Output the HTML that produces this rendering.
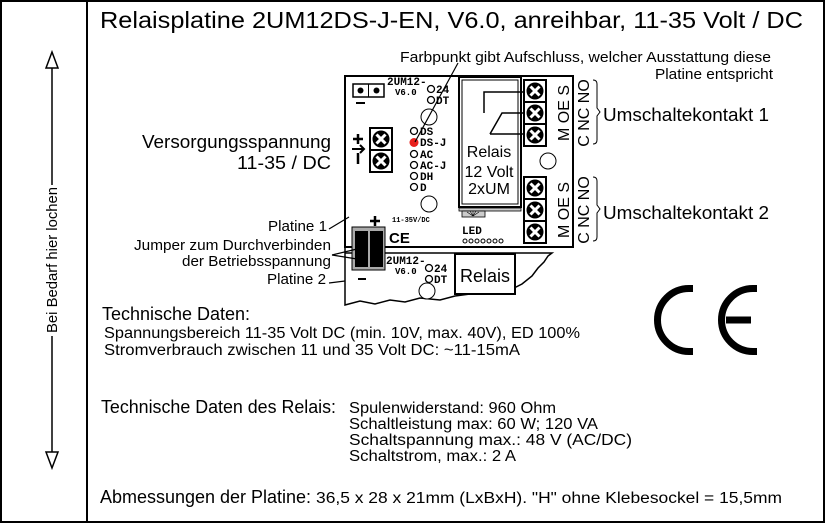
<!DOCTYPE html>
<html><head><meta charset="utf-8"><style>
html,body{margin:0;padding:0;background:#fff}
svg{display:block}
text{font-family:"Liberation Sans",sans-serif;fill:#000}
.m{font-family:"Liberation Mono",monospace;font-weight:bold}
</style></head><body>
<svg width="826" height="524" viewBox="0 0 826 524" xmlns="http://www.w3.org/2000/svg">
<defs>
<g id="scr">
<rect x="0" y="0" width="22" height="22" fill="#fff" stroke="#000" stroke-width="2"/>
<circle cx="11" cy="11" r="8.5" fill="#000"/>
<path d="M6.5 6.5L15.5 15.5M15.5 6.5L6.5 15.5" stroke="#fff" stroke-width="3"/>
</g>
</defs>
<rect x="1" y="1" width="823" height="521" fill="none" stroke="#000" stroke-width="2"/>
<line x1="87" y1="1" x2="87" y2="523" stroke="#000" stroke-width="2"/>

<!-- left arrow -->
<line x1="52" y1="66" x2="52" y2="185" stroke="#000" stroke-width="1.5"/>
<line x1="52" y1="336" x2="52" y2="454" stroke="#000" stroke-width="1.5"/>
<path d="M46 68L52 52L58 68Z" fill="#fff" stroke="#000" stroke-width="1.5"/>
<path d="M46 452L52 468L58 452Z" fill="#fff" stroke="#000" stroke-width="1.5"/>
<text transform="translate(57,260) rotate(-90)" font-size="15" text-anchor="middle" textLength="146" lengthAdjust="spacingAndGlyphs">Bei Bedarf hier lochen</text>

<!-- title -->
<text x="100" y="28" font-size="23" textLength="703" lengthAdjust="spacingAndGlyphs">Relaisplatine 2UM12DS-J-EN, V6.0, anreihbar, 11-35 Volt / DC</text>
<text x="400" y="62" font-size="15" textLength="371" lengthAdjust="spacingAndGlyphs">Farbpunkt gibt Aufschluss, welcher Ausstattung diese</text>
<text x="655" y="79" font-size="15" textLength="118" lengthAdjust="spacingAndGlyphs">Platine entspricht</text>

<text x="142" y="148" font-size="18" textLength="189" lengthAdjust="spacingAndGlyphs">Versorgungsspannung</text>
<text x="237" y="169" font-size="18" textLength="94" lengthAdjust="spacingAndGlyphs">11-35 / DC</text>
<text x="268" y="231" font-size="15" textLength="59" lengthAdjust="spacingAndGlyphs">Platine 1</text>
<text x="134" y="250" font-size="15" textLength="197" lengthAdjust="spacingAndGlyphs">Jumper zum Durchverbinden</text>
<text x="182" y="266" font-size="15" textLength="149" lengthAdjust="spacingAndGlyphs">der Betriebsspannung</text>
<text x="267" y="284" font-size="15" textLength="59" lengthAdjust="spacingAndGlyphs">Platine 2</text>

<!-- board 2 -->
<path d="M345 247 L345 305 L360 301 L375 304 L390 300 L405 302 L420 298 L440 300 L455 296 L470 294 L490 292 L510 290 L522 284 L532 276 L538 268 L544 262 L548 256 L552 253 L548 253 L345 253" fill="#fff" stroke="#000" stroke-width="1.5"/>
<rect x="455" y="254" width="60" height="40" fill="#fff" stroke="#000" stroke-width="2"/>
<text x="485" y="282" font-size="18" text-anchor="middle">Relais</text>
<circle cx="427" cy="291" r="8" fill="#fff" stroke="#000" stroke-width="1"/>
<text class="m" x="386" y="264" font-size="11">2UM12-</text>
<text class="m" x="395" y="274" font-size="9">V6.0</text>
<g fill="#fff" stroke="#000" stroke-width="1.3"><circle cx="429" cy="268" r="3.5"/><circle cx="429" cy="279" r="3.5"/></g>
<text class="m" x="434" y="272" font-size="11">24</text>
<text class="m" x="434" y="283" font-size="11">DT</text>

<!-- board 1 -->
<rect x="345" y="76" width="228" height="171" fill="#fff" stroke="#000" stroke-width="2"/>
<rect x="353" y="84" width="31" height="13" fill="#fff" stroke="#000" stroke-width="1.5"/>
<line x1="368.5" y1="84" x2="368.5" y2="97" stroke="#000"/>
<circle cx="360.5" cy="90.5" r="3" fill="#000"/><circle cx="376.5" cy="90.5" r="3" fill="#000"/>
<line x1="356" y1="103" x2="365" y2="103" stroke="#000" stroke-width="2"/>
<text class="m" x="387" y="85" font-size="11">2UM12-</text>
<text class="m" x="395" y="95" font-size="9">V6.0</text>
<g fill="#fff" stroke="#000" stroke-width="1.3"><circle cx="431" cy="89" r="3.5"/><circle cx="431" cy="100" r="3.5"/></g>
<text class="m" x="436" y="93" font-size="11">24</text>
<text class="m" x="436" y="104" font-size="11">DT</text>
<circle cx="429" cy="117" r="8" fill="#fff" stroke="#000" stroke-width="1"/>
<circle cx="429" cy="204" r="8" fill="#fff" stroke="#000" stroke-width="1"/>
<circle cx="548" cy="161" r="8" fill="#fff" stroke="#000" stroke-width="1"/>
<g fill="#fff" stroke="#000" stroke-width="1.3">
<circle cx="414" cy="131" r="3.5"/><circle cx="414" cy="154" r="3.5"/><circle cx="414" cy="165" r="3.5"/><circle cx="414" cy="176" r="3.5"/><circle cx="414" cy="187" r="3.5"/>
</g>
<circle cx="414" cy="142.5" r="4.5" fill="#e8201c"/>
<text class="m" x="420" y="135" font-size="11">DS</text>
<text class="m" x="420" y="146" font-size="11">DS-J</text>
<text class="m" x="420" y="158" font-size="11">AC</text>
<text class="m" x="420" y="169" font-size="11">AC-J</text>
<text class="m" x="420" y="180" font-size="11">DH</text>
<text class="m" x="420" y="191" font-size="11">D</text>
<!-- power block -->
<use href="#scr" x="370" y="128"/>
<use href="#scr" x="370" y="150"/>
<path d="M353 139h10M358 134v10" stroke="#000" stroke-width="2.5"/>
<path d="M352 149h12M360 145l4 4l-4 4" stroke="#000" stroke-width="2" fill="none"/>
<line x1="358" y1="153" x2="358" y2="164" stroke="#000" stroke-width="2.5"/>
<!-- plus / CE small -->
<path d="M370 221h10M375 216v10" stroke="#000" stroke-width="2.5"/>
<text class="m" x="392" y="222" font-size="7">11-35V/DC</text>
<text x="389" y="243" font-size="15" font-weight="bold">CE</text>
<!-- jumper -->
<rect x="352" y="227" width="33" height="43" fill="#aaa" stroke="#000"/>
<rect x="355" y="231" width="13" height="36" fill="#000"/>
<rect x="370" y="231" width="13" height="36" fill="#000"/>
<line x1="358" y1="279" x2="366" y2="279" stroke="#000" stroke-width="2"/>
<!-- relay -->
<rect x="459" y="77" width="62" height="130" fill="#fff" stroke="#000" stroke-width="2"/>
<rect x="462" y="80" width="56" height="124" fill="none" stroke="#000" stroke-width="1"/>
<path d="M484 113V92H525M490 134L502 113H525M490 134H525" stroke="#000" stroke-width="1.5" fill="none"/>
<text x="489" y="157" font-size="16" text-anchor="middle">Relais</text>
<text x="489" y="177" font-size="16" text-anchor="middle">12 Volt</text>
<text x="489" y="194" font-size="16" text-anchor="middle">2xUM</text>
<rect x="459" y="208" width="62" height="3" fill="#ccc" stroke="#000" stroke-width="0.8"/>
<rect x="462" y="211" width="23" height="6" fill="#ccc" stroke="#000" stroke-width="0.8"/>
<path d="M473 216l-6 -4M473 216l-3 -5M473 216l0 -5M473 216l3 -5M473 216l6 -4" stroke="#000" stroke-width="0.6"/>
<text class="m" x="462" y="234" font-size="11">LED</text>
<g fill="#fff" stroke="#000" stroke-width="1">
<circle cx="465" cy="241" r="2"/><circle cx="471" cy="241" r="2"/><circle cx="477" cy="241" r="2"/><circle cx="483" cy="241" r="2"/><circle cx="489" cy="241" r="2"/><circle cx="495" cy="241" r="2"/><circle cx="501" cy="241" r="2"/>
</g>
<!-- terminal blocks -->
<use href="#scr" x="524" y="80"/><use href="#scr" x="524" y="102"/><use href="#scr" x="524" y="124"/>
<use href="#scr" x="524" y="177"/><use href="#scr" x="524" y="199"/><use href="#scr" x="524" y="221"/>
<text transform="translate(569,113) rotate(-90)" font-size="16" text-anchor="middle">M OE S</text>
<text transform="translate(589,113) rotate(-90)" font-size="16" text-anchor="middle">C NC NO</text>
<text transform="translate(569,210) rotate(-90)" font-size="16" text-anchor="middle">M OE S</text>
<text transform="translate(589,210) rotate(-90)" font-size="16" text-anchor="middle">C NC NO</text>
<path d="M593 80q4 0 4 4v24l3 4l-3 4v24q0 4 -4 4" fill="none" stroke="#000" stroke-width="1"/>
<path d="M593 177q4 0 4 4v24l3 4l-3 4v24q0 4 -4 4" fill="none" stroke="#000" stroke-width="1"/>
<text x="603" y="121" font-size="18" textLength="166" lengthAdjust="spacingAndGlyphs">Umschaltekontakt 1</text>
<text x="603" y="219" font-size="18" textLength="166" lengthAdjust="spacingAndGlyphs">Umschaltekontakt 2</text>

<!-- leader lines -->
<g stroke="#000" stroke-width="1.2">
<line x1="458" y1="63" x2="415" y2="142"/>
<line x1="329" y1="229" x2="349" y2="217"/>
<line x1="332" y1="255" x2="357" y2="249"/>
<line x1="332" y1="255" x2="357" y2="259"/>
<line x1="329" y1="283" x2="345" y2="281"/>
</g>

<!-- CE -->
<path d="M693 288.5 H689 A31.5 31.5 0 0 0 689 351.5 H693" fill="none" stroke="#000" stroke-width="7"/>
<path d="M757 288.5 H753 A31.5 31.5 0 0 0 753 351.5 H757" fill="none" stroke="#000" stroke-width="7"/>
<line x1="726" y1="320" x2="751" y2="320" stroke="#000" stroke-width="7"/>

<!-- bottom text -->
<text x="102" y="320" font-size="18" textLength="148" lengthAdjust="spacingAndGlyphs">Technische Daten:</text>
<text x="104" y="338" font-size="15.5" textLength="476" lengthAdjust="spacingAndGlyphs">Spannungsbereich 11-35 Volt DC (min. 10V, max. 40V), ED 100%</text>
<text x="104" y="355" font-size="15.5" textLength="416" lengthAdjust="spacingAndGlyphs">Stromverbrauch zwischen 11 und 35 Volt DC: ~11-15mA</text>
<text x="101" y="413" font-size="18" textLength="235" lengthAdjust="spacingAndGlyphs">Technische Daten des Relais:</text>
<text x="349" y="413" font-size="15.5" textLength="207" lengthAdjust="spacingAndGlyphs">Spulenwiderstand: 960 Ohm</text>
<text x="349" y="429" font-size="15.5" textLength="249" lengthAdjust="spacingAndGlyphs">Schaltleistung max: 60 W; 120 VA</text>
<text x="349" y="445" font-size="15.5" textLength="283" lengthAdjust="spacingAndGlyphs">Schaltspannung max.: 48 V (AC/DC)</text>
<text x="349" y="461" font-size="15.5" textLength="167" lengthAdjust="spacingAndGlyphs">Schaltstrom, max.: 2 A</text>
<text x="100" y="503" font-size="18" textLength="211" lengthAdjust="spacingAndGlyphs">Abmessungen der Platine:</text>
<text x="316" y="503" font-size="15.5" textLength="466" lengthAdjust="spacingAndGlyphs">36,5 x 28 x 21mm (LxBxH). "H" ohne Klebesockel = 15,5mm</text>
</svg>
</body></html>
